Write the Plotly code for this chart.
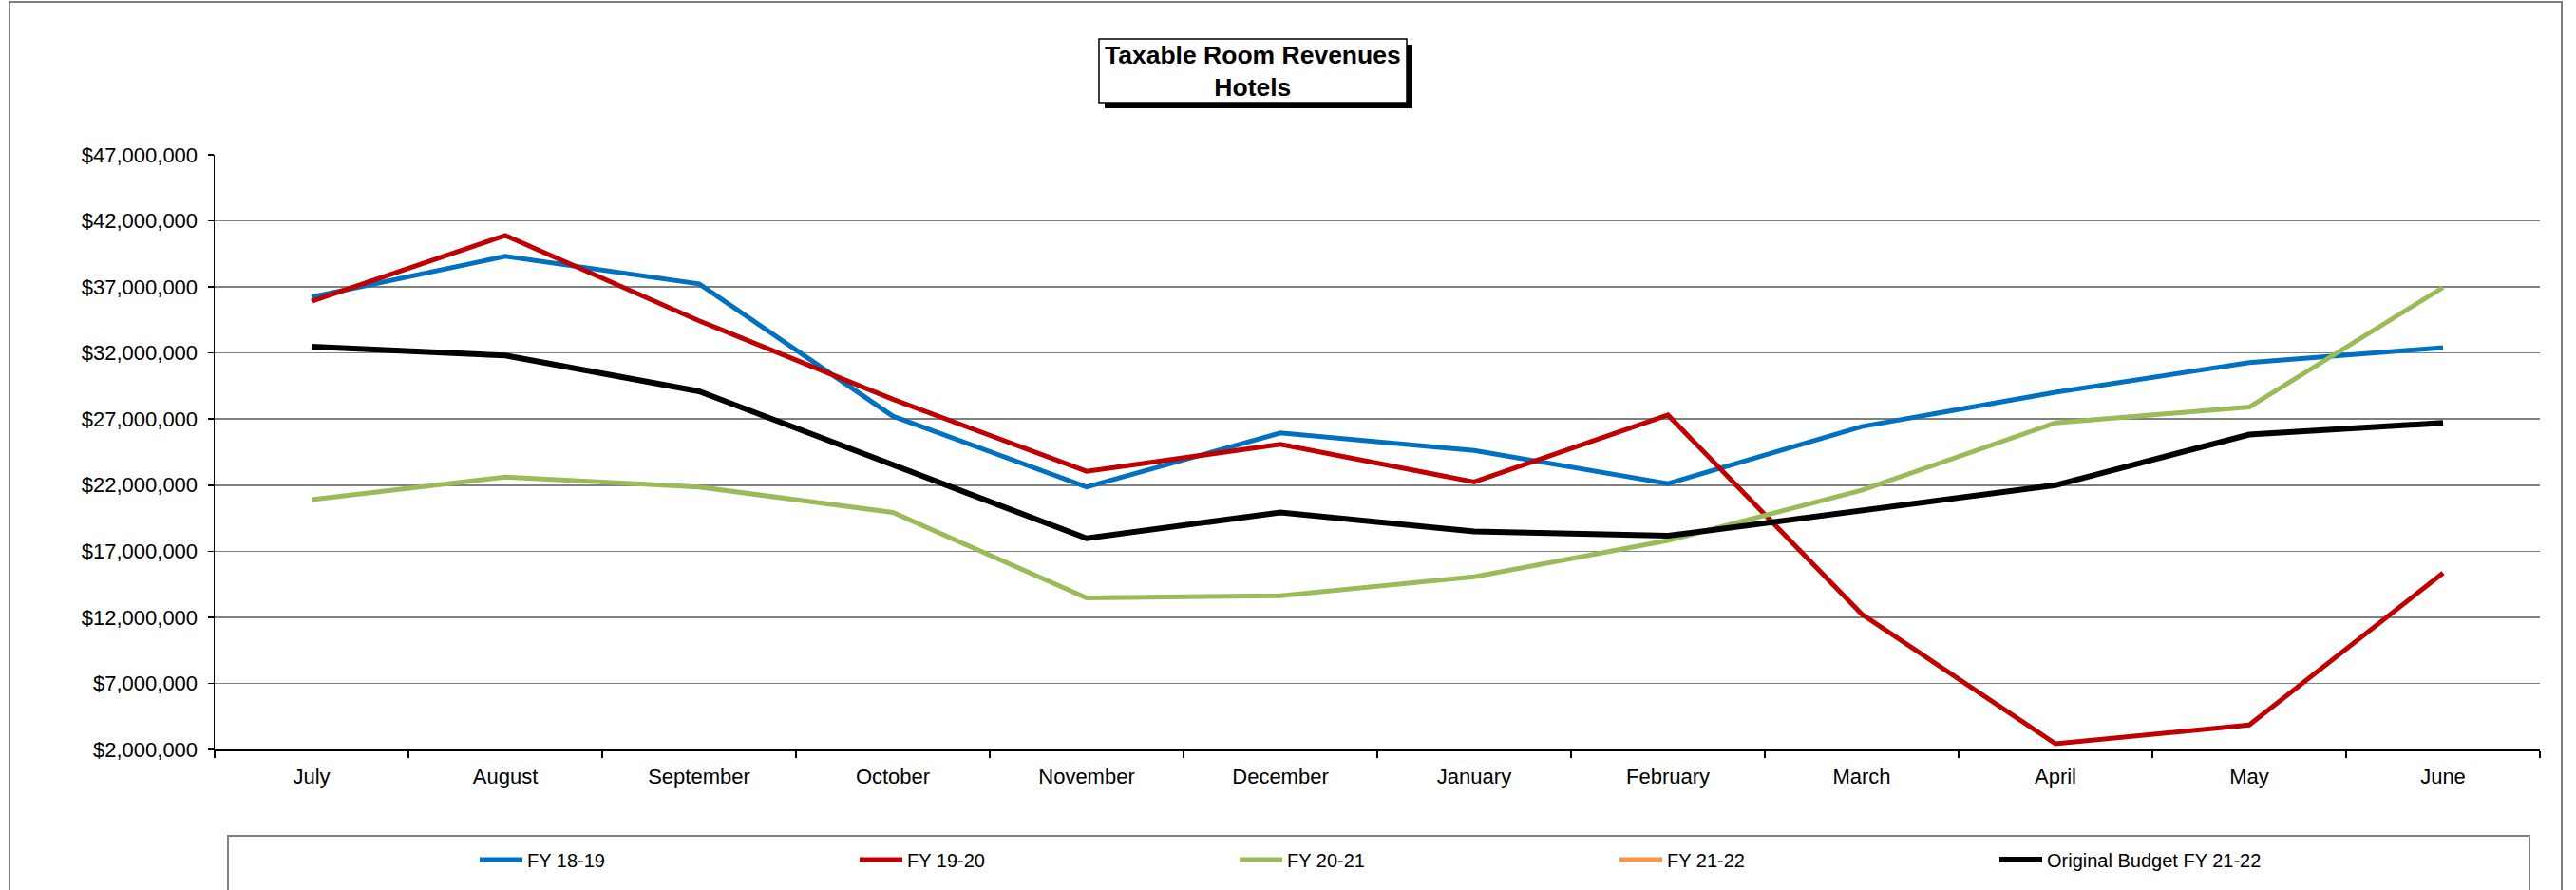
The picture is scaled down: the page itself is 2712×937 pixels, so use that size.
import plotly.graph_objects as go

months = ["July", "August", "September", "October", "November", "December",
          "January", "February", "March", "April", "May", "June"]

fy_18_19 = [36.23, 39.32, 37.24, 27.22, 21.86, 25.95, 24.62, 22.12, 26.43, 29.03, 31.28, 32.41]
fy_19_20 = [35.92, 40.90, 34.44, 28.50, 23.05, 25.09, 22.24, 27.31, 12.24, 2.43, 3.85, 15.35]
fy_20_21 = [20.90, 22.62, 21.86, 19.94, 13.46, 13.63, 15.06, 17.81, 21.62, 26.71, 27.91, 36.96]
fy_21_22 = [None] * 12
budget_21_22 = [32.48, 31.81, 29.10, 23.50, 17.98, 19.94, 18.50, 18.17, 20.09, 22.00, 25.83, 26.71]

y_ticks = [2, 7, 12, 17, 22, 27, 32, 37, 42, 47]  # millions
y_tick_labels = ["$" + format(v * 1_000_000, ",") for v in y_ticks]

series = [
    ("FY 18-19", fy_18_19, "#0070C0", 5),
    ("FY 19-20", fy_19_20, "#C00000", 5),
    ("FY 20-21", fy_20_21, "#9BBB59", 5),
    ("FY 21-22", fy_21_22, "#F79646", 5),
    ("Original Budget FY 21-22", budget_21_22, "#000000", 6),
]

W, H = 2712, 937
L, R, T, B = 226, 2674, 163, 789


def px(x):
    return (x - L) / (R - L)


def py(y):
    return (B - y) / (B - T)


fig = go.Figure()
for name, vals, color, w in series:
    fig.add_trace(go.Scatter(
        x=months,
        y=[v * 1_000_000 if v is not None else None for v in vals],
        mode="lines",
        name=name,
        line=dict(color=color, width=w),
    ))

font_family = "Liberation Sans, Arial, sans-serif"

fig.update_layout(
    width=W, height=H,
    margin=dict(l=L, r=W - R, t=T, b=H - B, pad=0),
    paper_bgcolor="white",
    plot_bgcolor="white",
    font=dict(family=font_family, color="#000000", size=22),
    showlegend=True,
    legend=dict(
        orientation="h",
        x=px(500), xanchor="left",
        y=py(905), yanchor="middle",
        entrywidth=340, entrywidthmode="pixels",
        itemwidth=45,
        font=dict(family=font_family, size=20),
        bgcolor="rgba(0,0,0,0)",
        traceorder="normal",
    ),
    xaxis=dict(
        type="category",
        range=[-0.5, 11.5],
        showline=True, linecolor="#000000", linewidth=1.5,
        ticks="outside", tickson="boundaries", ticklen=7, tickcolor="#000000", tickwidth=1.5,
        showgrid=False,
        tickfont=dict(size=22),
        ticklabelstandoff=8,
        fixedrange=True,
    ),
    yaxis=dict(
        range=[2_000_000, 47_000_000],
        tickvals=[v * 1_000_000 for v in y_ticks],
        ticktext=y_tick_labels,
        showline=True, linecolor="#000000", linewidth=1.5,
        ticks="outside", ticklen=6, tickcolor="#000000", tickwidth=1.5,
        showgrid=True, gridcolor="#808080", gridwidth=1.5,
        zeroline=False,
        tickfont=dict(size=22),
        ticklabelstandoff=6,
        fixedrange=True,
    ),
    shapes=[
        # outer chart border
        dict(type="rect", xref="paper", yref="paper",
             x0=px(10), x1=px(2697), y0=py(960), y1=py(2),
             line=dict(color="#7F7F7F", width=2), fillcolor="rgba(0,0,0,0)", layer="below"),
        # legend box
        dict(type="rect", xref="paper", yref="paper",
             x0=px(240), x1=px(2663), y0=py(960), y1=py(880),
             line=dict(color="#7F7F7F", width=2), fillcolor="rgba(0,0,0,0)", layer="below"),
        # title shadow
        dict(type="rect", xref="paper", yref="paper",
             x0=px(1163), x1=px(1487), y0=py(114), y1=py(47),
             line=dict(color="#000000", width=0), fillcolor="#000000"),
        # title box
        dict(type="rect", xref="paper", yref="paper",
             x0=px(1157), x1=px(1481), y0=py(108), y1=py(41),
             line=dict(color="#000000", width=1.5), fillcolor="#FFFFFF"),
    ],
    annotations=[
        dict(text="<b>Taxable Room Revenues<br>Hotels</b>",
             xref="paper", yref="paper",
             x=px(1319), y=py(74.5), xanchor="center", yanchor="middle",
             showarrow=False,
             font=dict(family=font_family, size=26.5, color="#000000")),
    ],
)

fig.write_html(
    "out.html",
    config={"displayModeBar": False, "staticPlot": True},
    post_script="document.body.style.margin='0';document.body.style.overflow='hidden';",
)
